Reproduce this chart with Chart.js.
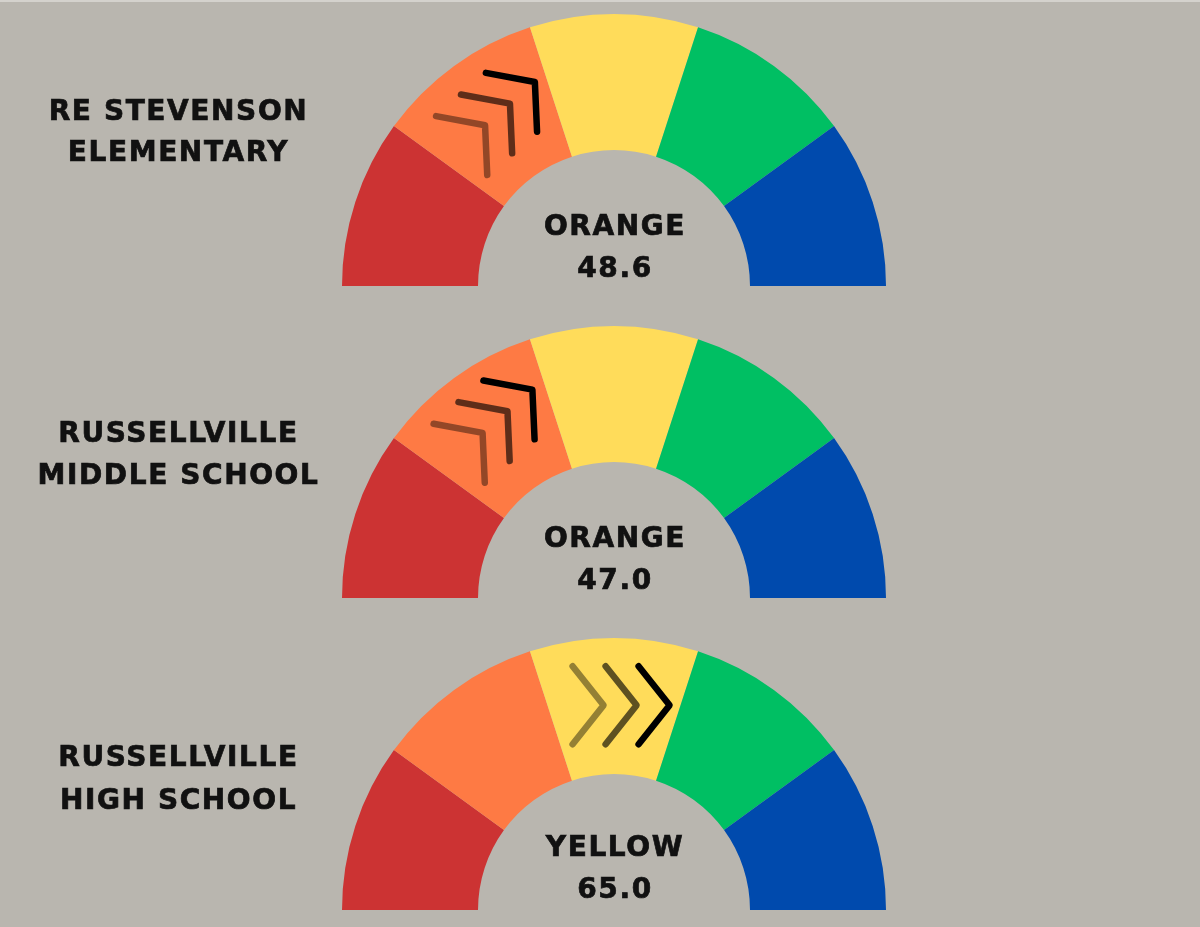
<!DOCTYPE html>
<html>
<head>
<meta charset="utf-8">
<script src="https://cdn.jsdelivr.net/npm/chart.js@4.4.1/dist/chart.umd.min.js"></script>
<style>
  html, body { margin: 0; padding: 0; }
  body { width: 1200px; height: 927px; overflow: hidden; position: relative; background: #B9B6AF; }
  #topline { position: absolute; left: 0; top: 0; width: 1200px; height: 2px; background: #D4D2CD; }
  .gauge { position: absolute; width: 544px; height: 272px; }
  .txt { position: absolute; font-family: "DejaVu Sans", sans-serif; font-weight: bold; font-size: 28px;
         letter-spacing: 1.6px; color: #111; text-align: center; white-space: nowrap;
         -webkit-text-stroke: 0.7px #111; }
</style>
</head>
<body>
<div id="topline"></div>
<script>
// ---- data ----
const schoolLine1 = ["RE STEVENSON", "RUSSELLVILLE", "RUSSELLVILLE"];
const schoolLine2 = ["ELEMENTARY", "MIDDLE SCHOOL", "HIGH SCHOOL"];
const scores = [48.6, 47.0, 65.0];
const ratings = ["ORANGE", "ORANGE", "YELLOW"];
const bandLabels = ["RED", "ORANGE", "YELLOW", "GREEN", "BLUE"];
const bandSizes = [1, 1, 1, 1, 1];

// ---- styles / layout ----
const bandColors = ["#CC3333", "#FE7A44", "#FFDC5A", "#00BF63", "#004AAD"];
const gaugeCenterX = 614, outerR = 272;
const baselines = [286, 598, 910];
const labelTops = [90, 412, 735];
const labelLH = [41, 42, 43];
const centerTextTops = [205, 517, 826];
const centerLH = [42, 42, 42];
const chevronRadius = [210, 215, 206];
const chevronTilt = [-5, -5, 0]; // degrees
const chevronAlpha = [0.42, 0.63, 1];

const chevronPlugin = {
  id: 'chevrons',
  afterDatasetsDraw(chart, args, opts) {
    const meta = chart.getDatasetMeta(0);
    const arc = meta.data[opts.band];
    if (!arc) return;
    const p = arc.getProps(['x', 'y', 'startAngle', 'endAngle'], true);
    const mid = (p.startAngle + p.endAngle) / 2;
    const anchorAng = mid + 6.3 * Math.PI / 180;
    const mx = p.x + opts.radius * Math.cos(anchorAng);
    const my = p.y + opts.radius * Math.sin(anchorAng);
    const dirAng = mid + Math.PI / 2 + opts.tilt * Math.PI / 180;
    const ux = Math.cos(dirAng), uy = Math.sin(dirAng);
    const vx = uy, vy = -ux; // outward normal
    const ctx = chart.ctx;
    ctx.save();
    ctx.lineWidth = 6.5;
    ctx.lineCap = 'round';
    ctx.lineJoin = 'round';
    [-1, 0, 1].forEach((i, k) => {
      const px = mx + i * 33 * ux, py = my + i * 33 * uy;
      ctx.strokeStyle = 'rgba(0,0,0,' + chevronAlpha[k] + ')';
      ctx.beginPath();
      ctx.moveTo(px - 31 * ux + 39 * vx, py - 31 * uy + 39 * vy);
      ctx.lineTo(px, py);
      ctx.lineTo(px - 31 * ux - 39 * vx, py - 31 * uy - 39 * vy);
      ctx.stroke();
    });
    ctx.restore();
  }
};

scores.forEach((score, g) => {
  const wrap = document.createElement('div');
  wrap.className = 'gauge';
  wrap.style.left = (gaugeCenterX - outerR) + 'px';
  wrap.style.top = (baselines[g] - outerR) + 'px';
  const cv = document.createElement('canvas');
  wrap.appendChild(cv);
  document.body.appendChild(wrap);

  new Chart(cv, {
    type: 'doughnut',
    data: {
      labels: bandLabels,
      datasets: [{ data: bandSizes, backgroundColor: bandColors, borderWidth: 0, hoverOffset: 0 }]
    },
    options: {
      responsive: true,
      maintainAspectRatio: false,
      animation: false,
      rotation: -90,
      circumference: 180,
      cutout: '50%',
      layout: { padding: 0 },
      events: [],
      plugins: {
        legend: { display: false },
        tooltip: { enabled: false },
        chevrons: { band: bandLabels.indexOf(ratings[g]), radius: chevronRadius[g], tilt: chevronTilt[g] }
      }
    },
    plugins: [chevronPlugin]
  });

  const lab = document.createElement('div');
  lab.className = 'txt';
  lab.style.left = '0px';
  lab.style.width = '357px';
  lab.style.top = labelTops[g] + 'px';
  lab.style.lineHeight = labelLH[g] + 'px';
  lab.innerHTML = schoolLine1[g] + '<br>' + schoolLine2[g];
  document.body.appendChild(lab);

  const ct = document.createElement('div');
  ct.className = 'txt';
  ct.style.left = (gaugeCenterX - 200 + 1) + 'px';
  ct.style.width = '400px';
  ct.style.top = centerTextTops[g] + 'px';
  ct.style.lineHeight = centerLH[g] + 'px';
  ct.innerHTML = ratings[g] + '<br>' + score.toFixed(1);
  document.body.appendChild(ct);
});
</script>
</body>
</html>
